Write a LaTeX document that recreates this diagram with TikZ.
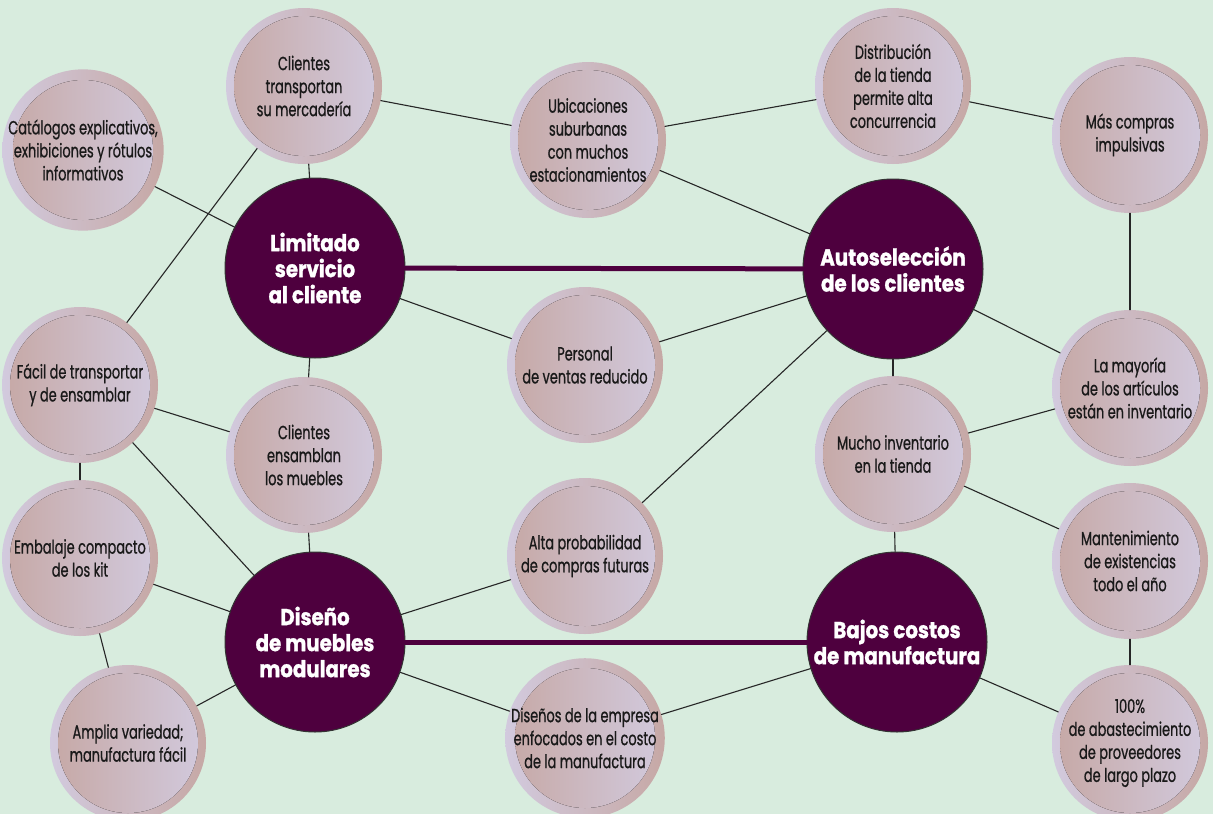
\documentclass[tikz,border=0pt]{standalone}
\usepackage{fontspec}
\newfontfamily\smallfont[FakeStretch=0.68, FakeBold=0.8]{Poppins}
\newfontfamily\bigfont[FakeStretch=0.86, BoldFeatures={FakeBold=1.2}]{Poppins}
\usetikzlibrary{calc}

\definecolor{bggreen}{RGB}{216,236,222}
\definecolor{plum}{RGB}{78,0,62}
\definecolor{rosy}{RGB}{198,168,165}
\definecolor{lilac}{RGB}{210,202,222}

\tikzset{
	idea/.style={circle, minimum size=156pt, inner sep=0pt, align=center,
		left color=lilac, right color=rosy, text=black!90,
		font=\smallfont\fontsize{19}{23}\selectfont,
		path picture={\fill[left color=rosy, right color=lilac]
			(path picture bounding box.center) circle (70pt);}},
	core/.style={circle, minimum size=180pt, inner sep=0pt, align=center,
		fill=plum, draw=black!80, line width=1pt, text=white,
		font=\bigfont\bfseries\fontsize{23}{26}\selectfont},
	link/.style={draw=black!85, line width=1.1pt},
	strong/.style={draw=plum, line width=5pt},
}

\begin{document}
\begin{tikzpicture}[x=1pt, y=-1pt, line cap=round, line join=round]
\path[use as bounding box, fill=bggreen] (0,0) rectangle (1213,814);

%========================
% core activities
%========================
\node[core] (limService) at (315,268) {Limitado\\servicio\\al cliente};
\node[core] (selfSel) at (893,269) {Autoselección\\de los clientes};
\node[core] (modular) at (315,642) {Diseño\\de muebles\\modulares};
\node[core] (lowCost) at (897,642) {Bajos costos\\de manufactura};

%========================
% left column
%========================
\node[idea] (catalog) at (83,150) {Catálogos explicativos,\\exhibiciones y rótulos\\informativos};
\node[idea] (easyKit) at (80,385) {Fácil de transportar\\y de ensamblar};
\node[idea] (compact) at (80,558) {Embalaje compacto\\de los kit};
\node[idea] (variety) at (128,743) {Amplia variedad;\\manufactura fácil};

% second column
\node[idea] (cTransport) at (304,86) {Clientes\\transportan\\su mercadería};
\node[idea] (assembly) at (304,455) {Clientes\\ensamblan\\los muebles};

%========================
% middle column
%========================
\node[idea] (suburb) at (588,140) {Ubicaciones\\suburbanas\\con muchos\\estacionamientos};
\node[idea] (staff) at (585,365) {Personal\\de ventas reducido};
\node[idea] (future) at (585,556) {Alta probabilidad\\de compras futuras};
\node[idea] (costDesign) at (585,738) {Diseños de la empresa\\enfocados en el costo\\de la manufactura};

%========================
% right columns
%========================
\node[idea] (layout) at (893,86) {Distribución\\de la tienda\\permite alta\\concurrencia};
\node[idea] (bigStock) at (893,454) {Mucho inventario\\en la tienda};
\node[idea] (impulse) at (1130,135) {Más compras\\impulsivas};
\node[idea] (stock) at (1130,388) {La mayoría\\de los artículos\\están en inventario};
\node[idea] (yearStock) at (1130,561) {Mantenimiento\\de existencias\\todo el año};
\node[idea] (supplier) at (1130,743) {100\%\\de abastecimiento\\de proveedores\\de largo plazo};

% main links
\draw[strong] (limService) -- (selfSel);
\draw[strong] (modular) -- (lowCost);

% other links
\draw[link] (catalog) -- (limService);
\draw[link] (cTransport) -- (limService);
\draw[link] (cTransport) -- (suburb);
\draw[link] (cTransport) -- (easyKit);
\draw[link] (suburb) -- (layout);
\draw[link] (suburb) -- (selfSel);
\draw[link] (layout) -- (impulse);
\draw[link] (impulse) -- (stock);
\draw[link] (limService) -- (staff);
\draw[link] (staff) -- (selfSel);
\draw[link] (limService) -- (assembly);
\draw[link] (easyKit) -- (assembly);
\draw[link] (easyKit) -- (modular);
\draw[link] (easyKit) -- (compact);
\draw[link] (assembly) -- (modular);
\draw[link] (compact) -- (modular);
\draw[link] (compact) -- (variety);
\draw[link] (variety) -- (modular);
\draw[link] (modular) -- (future);
\draw[link] (future) -- (selfSel);
\draw[link] (modular) -- (costDesign);
\draw[link] (costDesign) -- (lowCost);
\draw[link] (selfSel) -- (stock);
\draw[link] (selfSel) -- (bigStock);
\draw[link] (bigStock) -- (stock);
\draw[link] (bigStock) -- (yearStock);
\draw[link] (bigStock) -- (lowCost);
\draw[link] (yearStock) -- (supplier);
\draw[link] (lowCost) -- (supplier);
\end{tikzpicture}
\end{document}
